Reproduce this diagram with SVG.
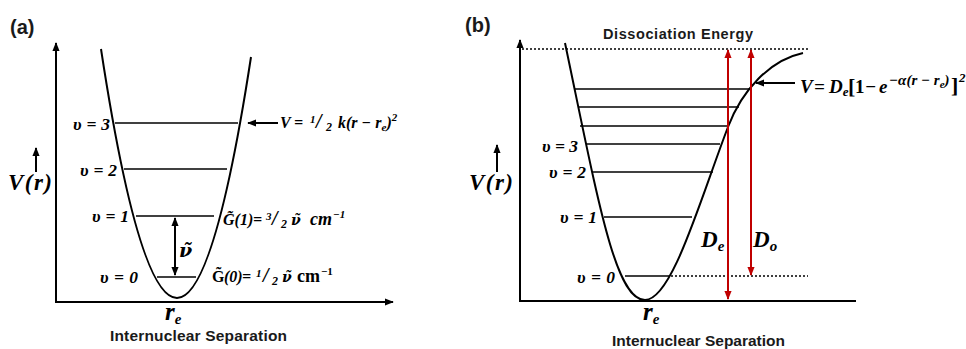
<svg xmlns="http://www.w3.org/2000/svg" width="966" height="349" viewBox="0 0 966 349">
<style>
.bg{fill:#fff}
.ln{stroke:#000;fill:none;stroke-width:2}
.lv{stroke:#000;stroke-width:1.6}
.ax{stroke:#000;stroke-width:2;fill:none}
.dot{stroke:#000;stroke-width:1.5;stroke-dasharray:2 2;fill:none}
.red{stroke:#c00000;stroke-width:2;fill:none}
.m{font-family:"Liberation Serif","DejaVu Serif",serif;font-weight:bold;font-style:italic;fill:#000}
.dj{font-family:"DejaVu Serif",serif}
.u{font-style:normal}
.s{font-family:"Liberation Sans",Arial,sans-serif;font-weight:bold;fill:#1a1a1a}
</style>
<defs>
<marker id="ah" viewBox="0 0 10 8" refX="9" refY="4" markerWidth="9" markerHeight="8" markerUnits="userSpaceOnUse" orient="auto-start-reverse"><path d="M0,0 L10,4 L0,8 z" fill="#000"/></marker>
<marker id="rh" viewBox="0 0 10 8" refX="9" refY="4" markerWidth="9" markerHeight="8" markerUnits="userSpaceOnUse" orient="auto-start-reverse"><path d="M0,0 L10,4 L0,8 z" fill="#c00000"/></marker>
</defs>
<rect class="bg" x="0" y="0" width="966" height="349"/>

<!-- Panel (a) -->
<g id="panel-a">
<text class="s" x="10" y="34" font-size="20">(a)</text>
<g id="a-axes">
<line class="ax" x1="56" y1="302" x2="56" y2="43" marker-end="url(#ah)"/>
<line class="ax" x1="55" y1="302" x2="393" y2="302" marker-end="url(#ah)"/>
</g>
<g id="a-curve"><path class="ln" d="M101,49 Q139,298 177,298 Q214,298 251,57"/></g>
<g id="a-levels">
<line class="lv" x1="115" y1="123" x2="238" y2="123"/>
<line class="lv" x1="124" y1="169" x2="227" y2="169"/>
<line class="lv" x1="136" y1="216" x2="214" y2="216"/>
<line class="lv" x1="157" y1="277" x2="196" y2="277"/>
</g>
<g id="a-level-labels" font-size="17.5">
<text class="m" x="73" y="130" textLength="37">υ = 3</text>
<text class="m" x="80" y="176" textLength="37">υ = 2</text>
<text class="m" x="92" y="222" textLength="37">υ = 1</text>
<text class="m" x="100" y="283" textLength="38">υ = 0</text>
</g>
<g id="a-vr">
<line class="ax" x1="36" y1="172" x2="36" y2="148" stroke-width="1.8" marker-end="url(#ah)"/>
<text class="m" x="8" y="190" font-size="23" textLength="44">V(r)</text>
</g>
<g id="a-spacing">
<line class="ax" x1="175" y1="218" x2="175" y2="275" stroke-width="1.8" marker-start="url(#ah)" marker-end="url(#ah)"/>
<text class="m dj" x="179" y="257" font-size="19">ν̃</text>
</g>
<g id="a-formula-v">
<line class="ax" x1="278" y1="123" x2="248" y2="123" stroke-width="1.5" marker-end="url(#ah)"/>
<text class="m" y="128" font-size="16"><tspan x="280">V</tspan><tspan x="294">=</tspan><tspan x="310" dy="-5" font-size="11">1</tspan><tspan x="316" dy="5" font-size="20">/</tspan><tspan x="326" dy="3" font-size="12">2</tspan><tspan x="338" dy="-3">k(r − r</tspan><tspan dy="3" font-size="11">e</tspan><tspan dy="-3">)</tspan><tspan dy="-7" font-size="11">2</tspan></text>
</g>
<g id="a-formula-g1">
<text class="m" y="225" font-size="16"><tspan x="223">G̃(1)</tspan><tspan x="253">=</tspan><tspan x="266" dy="-5" font-size="11">3</tspan><tspan x="272" dy="5" font-size="20">/</tspan><tspan x="281" dy="3" font-size="12">2</tspan><tspan x="291" dy="-3" class="dj" font-size="14">ν̃</tspan><tspan x="310" font-size="18">cm</tspan><tspan dx="1" dy="-7" font-size="11">−1</tspan></text>
</g>
<g id="a-formula-g0">
<text class="m" y="282" font-size="16"><tspan x="212" class="u">G̃</tspan><tspan x="224">(0)</tspan><tspan x="242">=</tspan><tspan x="256" dy="-5" font-size="11">1</tspan><tspan x="263" dy="5" font-size="20">/</tspan><tspan x="272" dy="3" font-size="12">2</tspan><tspan x="282" dy="-3" class="dj" font-size="14">ν̃</tspan><tspan x="297" class="u" font-size="18">cm</tspan><tspan dx="1" dy="-7" font-size="11" class="u">−1</tspan></text>
</g>
<text class="m" x="165" y="320" font-size="25">r<tspan dy="4" font-size="15">e</tspan></text>
<text class="s" x="110" y="341" font-size="15.5" textLength="177">Internuclear Separation</text>
</g>

<!-- Panel (b) -->
<g id="panel-b">
<text class="s" x="465" y="32" font-size="20">(b)</text>
<text class="s" x="603" y="39" font-size="14.5" textLength="150">Dissociation Energy</text>
<g id="b-axes">
<line class="ax" x1="520" y1="301" x2="520" y2="40" marker-end="url(#ah)"/>
<line class="ax" x1="519" y1="301" x2="856" y2="301"/>
</g>
<g id="b-dotted">
<line class="dot" x1="522" y1="49" x2="810" y2="49"/>
<line class="dot" x1="667" y1="276" x2="808" y2="276"/>
</g>
<g id="b-curve"><path class="ln" d="M565,43 C598,200 615,300 645,300 C672,300 700,200 728,127 C742,90 770,60 803,53"/></g>
<g id="b-levels">
<line class="lv" x1="575" y1="89" x2="750" y2="89"/>
<line class="lv" x1="578" y1="107" x2="739" y2="107"/>
<line class="lv" x1="580" y1="126" x2="728" y2="126"/>
<line class="lv" x1="586" y1="144" x2="720" y2="144"/>
<line class="lv" x1="592" y1="172" x2="713" y2="172"/>
<line class="lv" x1="604" y1="217" x2="692" y2="217"/>
<line class="lv" x1="625" y1="276" x2="667" y2="276"/>
</g>
<g id="b-level-labels" font-size="17.5">
<text class="m" x="542" y="152" textLength="36">υ = 3</text>
<text class="m" x="549" y="178" textLength="37">υ = 2</text>
<text class="m" x="560" y="223" textLength="37">υ = 1</text>
<text class="m" x="577" y="283" textLength="38">υ = 0</text>
</g>
<g id="b-vr">
<line class="ax" x1="497" y1="172" x2="497" y2="145" stroke-width="1.8" marker-end="url(#ah)"/>
<text class="m" x="469" y="190" font-size="23" textLength="44">V(r)</text>
</g>
<g id="b-energies">
<line class="red" x1="728" y1="50" x2="728" y2="299" marker-start="url(#rh)" marker-end="url(#rh)"/>
<line class="red" x1="751" y1="50" x2="751" y2="275" marker-start="url(#rh)" marker-end="url(#rh)"/>
<text class="m" x="701" y="247" font-size="23">D<tspan dy="4" font-size="15">e</tspan></text>
<text class="m" x="753" y="247" font-size="23">D<tspan dy="4" font-size="15">o</tspan></text>
</g>
<g id="b-formula">
<line class="ax" x1="795" y1="83" x2="756" y2="83" stroke-width="1.5" marker-end="url(#ah)"/>
<text class="m" y="93" font-size="19"><tspan x="800">V</tspan><tspan x="814">=</tspan><tspan x="829">D</tspan><tspan dy="3" font-size="13">e</tspan><tspan x="848" dy="-2" font-size="22" class="u">[</tspan><tspan x="855" dy="-1" class="u">1</tspan><tspan x="865">−</tspan><tspan x="879">e</tspan><tspan x="889" dy="-8" font-size="15">−α(r − r</tspan><tspan dy="3" font-size="11">e</tspan><tspan dy="-3" font-size="15">)</tspan><tspan x="951" dy="8" font-size="22" class="u">]</tspan><tspan x="959" dy="-11" font-size="13">2</tspan></text>
</g>
<text class="m" x="643" y="320" font-size="25">r<tspan dy="4" font-size="15">e</tspan></text>
<text class="s" x="612" y="346" font-size="15.5" textLength="173">Internuclear Separation</text>
</g>
</svg>
